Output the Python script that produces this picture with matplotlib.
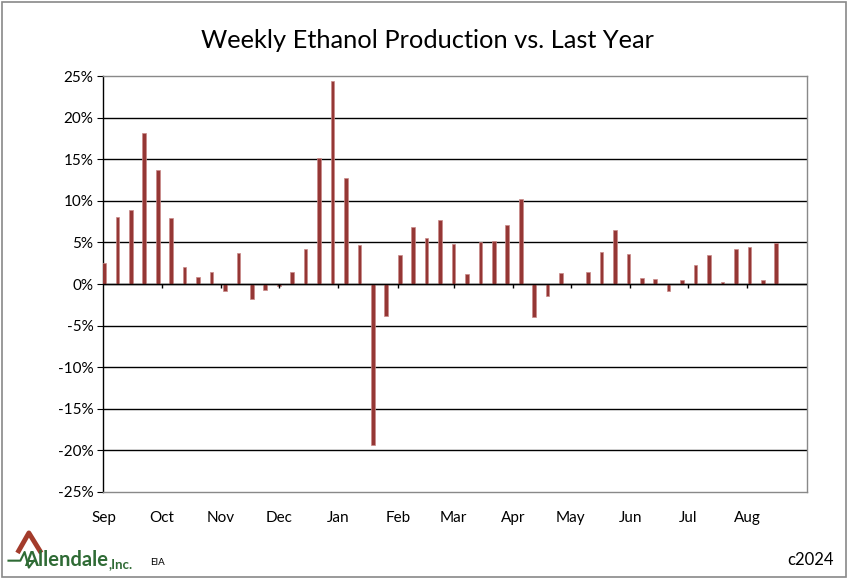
import matplotlib
matplotlib.use("Agg")
import matplotlib.pyplot as plt
from matplotlib.patches import Rectangle
import numpy as np
import pandas as pd

plt.rcParams['font.family'] = ['Lato', 'DejaVu Sans']

# weekly % change vs last year, weeks ending Fridays from 2023-09-01
week_start = '2023-09-01'
pct_change = [2.5, 8.1, 8.9, 18.2, 13.7, 7.9, 2.0, 0.8, 1.4, -0.9,
              3.7, -1.8, -0.7, -0.3, 1.4, 4.2, 15.1, 24.4, 12.8, 4.7,
              -19.3, -3.8, 3.5, 6.9, 5.5, 7.7, 4.8, 1.2, 5.1, 5.2,
              7.1, 10.2, -4.0, -1.5, 1.3, np.nan, 1.5, 3.8, 6.5, 3.6,
              0.7, 0.6, -0.9, 0.5, 2.3, 3.5, 0.3, 4.2, 4.5, 0.5, 4.9]
month_labels = ['Sep', 'Oct', 'Nov', 'Dec', 'Jan', 'Feb', 'Mar', 'Apr',
                'May', 'Jun', 'Jul', 'Aug']
y_ticks = [-25, -20, -15, -10, -5, 0, 5, 10, 15, 20, 25]

weeks = pd.date_range(week_start, periods=len(pct_change), freq='7D')
months = pd.date_range('2023-09-01', periods=len(month_labels), freq='MS')
vals = np.array(pct_change) / 100.0

fig = plt.figure(figsize=(8.49, 5.78), dpi=100)
ax = fig.add_axes([0.1213, 0.1488, 0.8292, 0.7197])

bar_color = '#953735'
ax.bar(weeks, vals, width=1.9, color=bar_color, edgecolor='#c98a88',
       linewidth=0.5, zorder=3)

ax.set_ylim(-0.25, 0.25)
ax.set_xlim(pd.Timestamp('2023-09-01') - pd.Timedelta(hours=12),
            pd.Timestamp('2024-09-01'))
ax.set_yticks([t / 100 for t in y_ticks])
ax.set_yticklabels([f'{t}%' for t in y_ticks], fontsize=11)
for t in y_ticks[1:-1]:
    ax.axhline(t / 100, color='black', lw=1.0, zorder=1)
ax.axhline(0, color='black', lw=1.0, zorder=4)

# month ticks on the zero line, labels at the bottom
ax.vlines(months[1:], -0.005, 0, color='black', lw=1.0, zorder=4)
ax.set_xticks(months)
ax.set_xticklabels(month_labels, fontsize=11)
ax.tick_params(axis='x', length=0, pad=14)
ax.tick_params(axis='y', length=4, color='black', pad=3)

for s in ['top', 'right', 'bottom']:
    ax.spines[s].set_color('#898989')
    ax.spines[s].set_linewidth(1.0)
ax.spines['left'].set_color('black')
ax.spines['left'].set_linewidth(1.0)

fig.text(0.503, 0.93, 'Weekly Ethanol Production vs. Last Year',
         ha='center', va='center', fontsize=18.3)

# footer: logo
logo = fig.text(0.028, 0.02, 'Allendale', color='#2f6b35', fontsize=14.5,
                fontweight='bold', ha='left', va='baseline')
ax.annotate(',Inc.', xy=(1, 0), xycoords=logo, xytext=(0.5, 0),
            textcoords='offset points', color='#2f6b35', fontsize=9.5,
            fontweight='bold', ha='left', va='bottom')
fig.lines.append(plt.Line2D([0.010, 0.024, 0.029, 0.034, 0.040],
                            [0.030, 0.030, 0.045, 0.018, 0.030],
                            transform=fig.transFigure, color='#2f6b35', lw=1.5))
fig.lines.append(plt.Line2D([0.022, 0.034, 0.047],
                            [0.047, 0.078, 0.047],
                            transform=fig.transFigure, color='#a33b2b', lw=3.5))
fig.text(0.177, 0.022, 'EIA', fontsize=7, ha='left', va='baseline')
fig.text(0.982, 0.022, 'c2024', fontsize=12, ha='right', va='baseline')

fig.patches.append(Rectangle((0.002, 0.002), 0.995, 0.995, fill=False,
                             edgecolor='#898989', lw=1.2,
                             transform=fig.transFigure))

fig.savefig('out.png', dpi=100)
